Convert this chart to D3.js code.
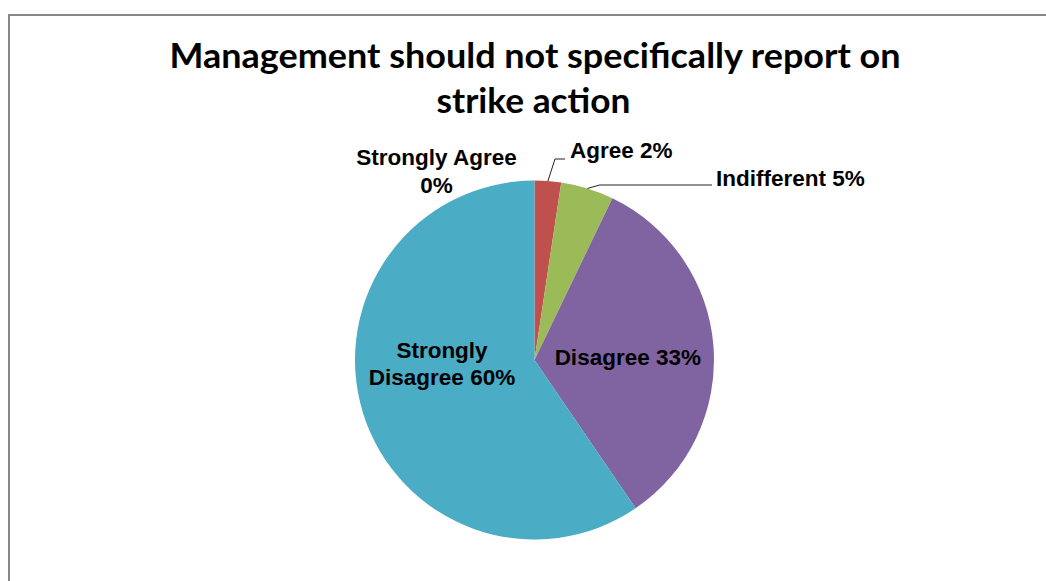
<!DOCTYPE html>
<html>
<head>
<meta charset="utf-8">
<script src="https://cdn.jsdelivr.net/npm/d3@7"></script>
<style>
  html, body { margin: 0; padding: 0; background: #fff; }
  svg { display: block; }
</style>
</head>
<body>
<svg id="chart" width="1046" height="581"></svg>
<script>
// Survey responses (number of respondents per answer)
const categories = ["Strongly Agree", "Agree", "Indifferent", "Disagree", "Strongly Disagree"];
const responses = [0, 1, 2, 14, 25];
const sliceColors = ["#4F81BD", "#C0504D", "#9BBB59", "#8064A2", "#4BACC6"];
const titleLines = ["Management should not specifically report on", "strike action"];

const width = 1046, height = 581;
const cx = 534.5, cy = 360, radius = 179.5;

const svg = d3.select("#chart");

// chart frame (only top and left edges fall inside the view)
svg.append("rect")
  .attr("x", 9).attr("y", 15)
  .attr("width", 1200).attr("height", 800)
  .attr("fill", "#fff")
  .attr("stroke", "#878787")
  .attr("stroke-width", 2);

// title
const titleLayout = [
  { y: 67.7, x: 535, len: 731 },
  { y: 112.7, x: 533.5, len: 194 }
];
svg.append("g").selectAll("text")
  .data(titleLines)
  .join("text")
  .attr("x", (d, i) => titleLayout[i].x)
  .attr("y", (d, i) => titleLayout[i].y)
  .attr("text-anchor", "middle")
  .attr("textLength", (d, i) => titleLayout[i].len)
  .attr("lengthAdjust", "spacingAndGlyphs")
  .style("font-family", "Lato, 'Open Sans', sans-serif")
  .style("font-weight", "700")
  .style("font-size", "34px")
  .attr("fill", "#000")
  .text(d => d);

// pie
const total = d3.sum(responses);
const data = categories.map((c, i) => ({ name: c, value: responses[i], color: sliceColors[i] }));
const pie = d3.pie().value(d => d.value).sort(null).startAngle(0).endAngle(2 * Math.PI);
const arcs = pie(data);
const arc = d3.arc().innerRadius(0).outerRadius(radius);

const g = svg.append("g").attr("transform", `translate(${cx},${cy})`);

g.selectAll("path")
  .data(arcs.filter(a => a.value > 0))
  .join("path")
  .attr("d", arc)
  .attr("fill", d => d.data.color)
  .attr("stroke", "none");

// label placement relative to the pie centre
const labelLayout = {
  "Strongly Agree":    { anchor: "middle", x: -98,   ys: [-195, -167], breakAfter: 2 },
  "Agree":             { anchor: "start",  x: 35.5,  ys: [-201.7],     breakAfter: 0,
                         leader: [[20.5, -201], [30.5, -201]] },
  "Indifferent":       { anchor: "start",  x: 181.5, ys: [-174],       breakAfter: 0,
                         leader: [[65, -175], [177.5, -175]] },
  "Disagree":          { anchor: "middle", x: 93.3,  ys: [5],          breakAfter: 0 },
  "Strongly Disagree": { anchor: "middle", x: -92.5, ys: [-2, 24.5],   breakAfter: 1 }
};

const pct = v => Math.round(v / total * 100) + "%";

arcs.forEach(a => {
  const L = labelLayout[a.data.name];
  const full = a.data.name + " " + pct(a.value);
  let lines = [full];
  if (L.breakAfter > 0) {
    const words = full.split(" ");
    lines = [words.slice(0, L.breakAfter).join(" "), words.slice(L.breakAfter).join(" ")];
  }
  if (L.leader) {
    const mid = (a.startAngle + a.endAngle) / 2;
    const start = [radius * Math.sin(mid), -radius * Math.cos(mid)];
    g.append("path")
      .attr("d", d3.line()([start, ...L.leader]))
      .attr("fill", "none")
      .attr("stroke", "#222")
      .attr("stroke-width", 1);
  }
  const t = g.append("text")
    .attr("text-anchor", L.anchor)
    .style("font-family", "'Liberation Sans', Arial, sans-serif")
    .style("font-weight", "700")
    .style("font-size", "22.5px")
    .attr("fill", "#000");
  lines.forEach((ln, i) => {
    t.append("tspan").attr("x", L.x).attr("y", L.ys[i]).text(ln);
  });
});
</script>
</body>
</html>
